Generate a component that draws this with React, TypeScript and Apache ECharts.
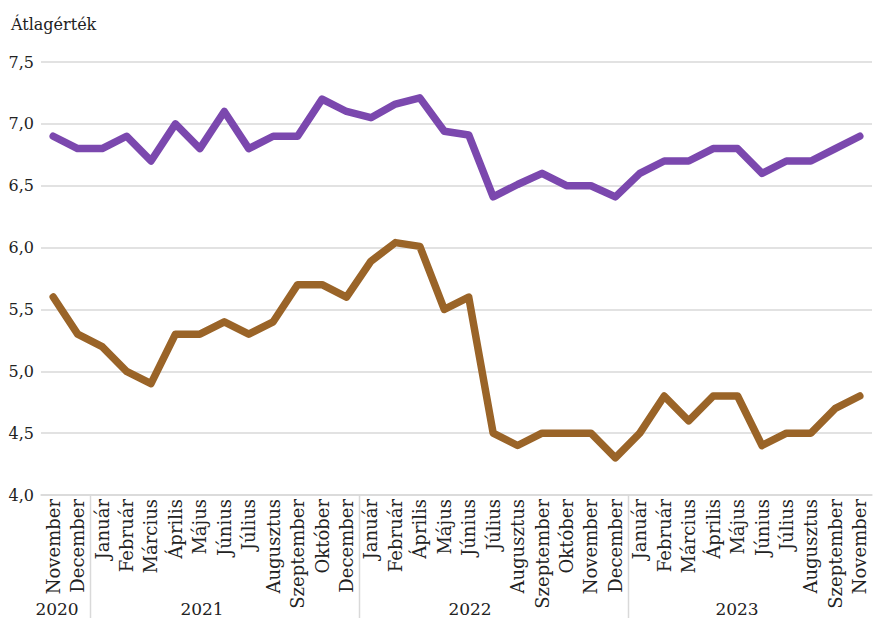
import React, { useEffect, useRef } from "react";
import * as echarts from "echarts";

const months: string[] = [
  "November", "December",
  "Január", "Február", "Március", "Április", "Május", "Június", "Július", "Augusztus", "Szeptember", "Október", "December",
  "Január", "Február", "Április", "Május", "Június", "Július", "Augusztus", "Szeptember", "Október", "November", "December",
  "Január", "Február", "Március", "Április", "Május", "Június", "Július", "Augusztus", "Szeptember", "November",
];

const years: string[] = ["2020", "2021", "2022", "2023"];
// index of first month of each year (after the first)
const yearStarts: number[] = [2, 13, 24];

const purpleSeries: number[] = [
  6.9, 6.8,
  6.8, 6.9, 6.7, 7.0, 6.8, 7.1, 6.8, 6.9, 6.9, 7.2, 7.1,
  7.05, 7.16, 7.21, 6.94, 6.91, 6.41, 6.51, 6.6, 6.5, 6.5, 6.41,
  6.6, 6.7, 6.7, 6.8, 6.8, 6.6, 6.7, 6.7, 6.8, 6.9,
];

const brownSeries: number[] = [
  5.6, 5.3,
  5.2, 5.0, 4.9, 5.3, 5.3, 5.4, 5.3, 5.4, 5.7, 5.7, 5.6,
  5.89, 6.04, 6.01, 5.5, 5.6, 4.5, 4.4, 4.5, 4.5, 4.5, 4.3,
  4.5, 4.8, 4.6, 4.8, 4.8, 4.4, 4.5, 4.5, 4.7, 4.8,
];

const yTicks = { min: 4.0, max: 7.5, interval: 0.5 };

const FONT = "DejaVu Serif";
const TEXT_COLOR = "#222222";
const LINE_GRAY = "#d9d9d9";

export default function App() {
  const ref = useRef<HTMLDivElement>(null);

  useEffect(() => {
    if (!ref.current) return;
    const chart = echarts.init(ref.current, undefined, { renderer: "svg" });
    chart.setOption({
      animation: false,
      backgroundColor: "#ffffff",
      grid: { left: 41, right: 1, top: 62, bottom: 123, containLabel: false },
      xAxis: {
        type: "category",
        data: months,
        boundaryGap: true,
        axisLine: { show: true, lineStyle: { color: LINE_GRAY, width: 1.5 } },
        axisTick: { show: false },
        axisLabel: {
          interval: 0,
          rotate: 90,
          margin: 4,
          fontFamily: FONT,
          fontSize: 18,
          color: TEXT_COLOR,
        },
        splitLine: { show: false },
      },
      yAxis: {
        type: "value",
        min: yTicks.min,
        max: yTicks.max,
        interval: yTicks.interval,
        axisLine: { show: false },
        axisTick: { show: false },
        axisLabel: {
          margin: 7,
          fontFamily: FONT,
          fontSize: 16,
          color: TEXT_COLOR,
          formatter: (v: number) => v.toFixed(1).replace(".", ","),
        },
        splitLine: { show: true, lineStyle: { color: LINE_GRAY, width: 1.5 } },
      },
      series: [
        {
          name: "Lila",
          type: "line",
          data: purpleSeries,
          symbol: "none",
          lineStyle: { color: "#7b48ae", width: 7.5, join: "round", cap: "round" },
          itemStyle: { color: "#7b48ae" },
        },
        {
          name: "Barna",
          type: "line",
          data: brownSeries,
          symbol: "none",
          lineStyle: { color: "#9a6428", width: 7.5, join: "round", cap: "round" },
          itemStyle: { color: "#9a6428" },
        },
      ],
    });

    const graphics: any[] = [
      {
        type: "text",
        left: 11,
        top: 16,
        style: { text: "Átlagérték", font: `16px "${FONT}"`, fill: TEXT_COLOR },
      },
    ];
    const axisY = chart.convertToPixel({ yAxisIndex: 0 }, yTicks.min) as number;
    yearStarts.forEach((idx) => {
      const a = chart.convertToPixel({ xAxisIndex: 0 }, idx - 1) as number;
      const b = chart.convertToPixel({ xAxisIndex: 0 }, idx) as number;
      const x = Math.round((a + b) / 2) + 0.5;
      graphics.push({
        type: "line",
        shape: { x1: x, y1: axisY, x2: x, y2: 618 },
        style: { stroke: LINE_GRAY, lineWidth: 1.5 },
      });
    });
    const yearX = [57, 202, 470, 737];
    years.forEach((y, i) => {
      graphics.push({
        type: "text",
        x: yearX[i],
        y: 609,
        style: {
          text: y,
          font: `17px "${FONT}"`,
          fill: TEXT_COLOR,
          align: "center",
          verticalAlign: "middle",
        },
      });
    });
    chart.setOption({ graphic: graphics });

    return () => chart.dispose();
  }, []);

  return (
    <div
      ref={ref}
      style={{ position: "absolute", left: 0, top: 0, width: 873, height: 618 }}
    />
  );
}
